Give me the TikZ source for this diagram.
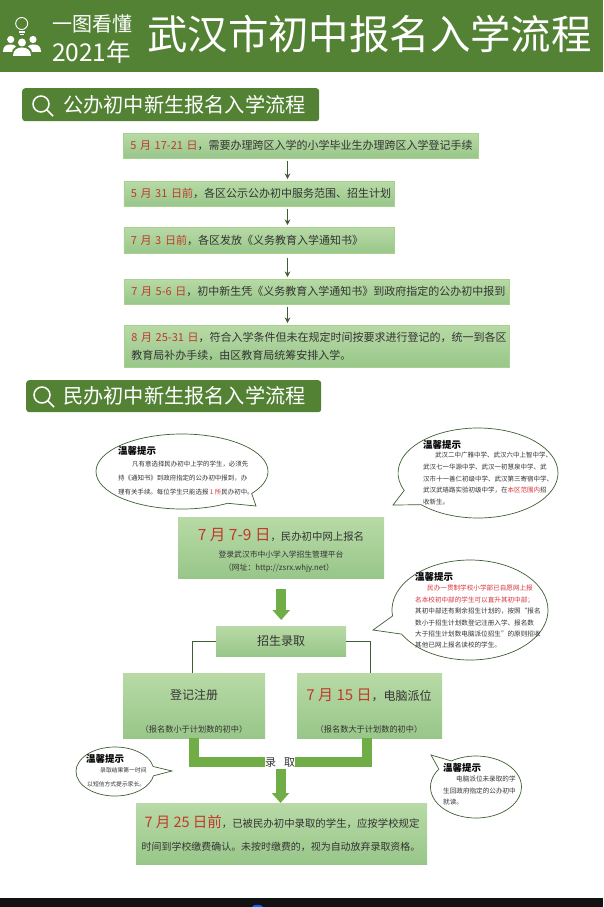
\documentclass[tikz,border=0pt]{standalone}
\usepackage{fontspec}
\setmainfont{Noto Sans CJK SC}
\usepackage{tikz}
\usetikzlibrary{shapes.callouts,arrows.meta,positioning,calc}
\definecolor{bandgreen}{HTML}{548235}
\definecolor{flowgreen}{HTML}{70AD47}
\definecolor{boxtop}{HTML}{B8DAA6}
\definecolor{boxbot}{HTML}{98C689}
\definecolor{boxedge}{HTML}{A9D18E}
\definecolor{datered}{HTML}{C0392B}
\definecolor{tipred}{HTML}{D9363E}
\definecolor{inkgray}{HTML}{333333}
\definecolor{linegreen}{HTML}{3F5F32}
\newcommand{\dated}[1]{\textcolor{datered}{#1}}
\newcommand{\tipred}[1]{\textcolor{tipred}{#1}}
\newcommand{\fsz}[1]{\fontsize{#1}{#1}\selectfont}

\begin{document}
\begin{tikzpicture}[
    x=1pt, y=-1pt,
    >=Stealth,
    band/.style={rectangle, fill=bandgreen, text=white, inner sep=0pt},
    secbox/.style={rectangle, fill=bandgreen, rounded corners=3pt, anchor=north west, inner sep=0pt, text=white},
    stepbox/.style={rectangle, draw=boxedge, top color=boxtop, bottom color=boxbot, anchor=north west, line width=0.6pt, inner xsep=7pt, inner ysep=0pt, align=left, text=inkgray, font=\fontsize{11}{17.5}\selectfont},
    flowbox/.style={rectangle, top color=boxtop, bottom color=boxbot, anchor=north west, inner sep=0pt, text=inkgray},
    steparrow/.style={-{Stealth[length=5.5pt,width=5.5pt]}, draw=linegreen, line width=0.7pt, shorten <=2pt, shorten >=2pt},
    branch/.style={draw=linegreen, line width=0.7pt},
    flowline/.style={draw=flowgreen, line width=10pt, line join=miter},
    flowarrow/.style={-{Triangle[width=17pt,length=10pt]}, draw=flowgreen, fill=flowgreen, line width=10pt},
    tipshape/.style={ellipse callout, draw=linegreen, fill=white, line width=0.7pt, callout pointer arc=22, inner sep=0pt},
    tiptitle/.style={anchor=west, inner sep=0pt, font=\fontsize{9.5}{10}\selectfont\bfseries, text=black},
    tipbody/.style={anchor=north west, inner sep=0pt, align=left, text=inkgray}
]
\useasboundingbox (0,0) rectangle (603,907);
\fill[white] (0,0) rectangle (603,907);

% Header
\node[band, anchor=north west, minimum width=603pt, minimum height=72pt] (header) at (0,0) {};
\node[anchor=west, inner sep=0pt, text=white, font=\fsz{20}] (sub1) at (52,24) {一图看懂};
\node[anchor=west, inner sep=0pt, text=white, font=\fsz{24.5}] (sub2) at (52,52) {2021年};
\node[anchor=west, inner sep=0pt, text=white, font=\fsz{40.4}] (title) at (147,34) {武汉市初中报名入学流程};

% Header icon
\draw[white, line width=0.9pt] (21.7,23.5) circle (6);
\draw[white, line width=1.2pt] (19,32) -- (24.5,32) (20,34.5) -- (23.5,34.5);
\fill[white] (10.7,39.5) circle (3.6) (33,39.5) circle (3.6) (22,42.5) circle (4);
\fill[white] (3,52) .. controls (3,46) and (6,44.5) .. (10.7,44.5) .. controls (13,44.5) and (15,45) .. (16,46.5) .. controls (13,48) and (12,50) .. (12,52) -- cycle;
\fill[white] (41,52) .. controls (41,46) and (38,44.5) .. (33,44.5) .. controls (31,44.5) and (29,45) .. (28,46.5) .. controls (31,48) and (32,50) .. (32,52) -- cycle;
\fill[white] (13,56) .. controls (13,50) and (17,47.5) .. (22,47.5) .. controls (27,47.5) and (31,50) .. (31,56) -- cycle;

% Public school section
\node[secbox, minimum width=297pt, minimum height=33pt] (sec1) at (22,88) {};
\node[anchor=west, inner sep=0pt, text=white, font=\fsz{20.2}] (sec1txt) at (63,105) {公办初中新生报名入学流程};
\draw[white, line width=1.5pt] (41,104) circle (8) (47,110) -- (53,116);

\node[stepbox, text width=341pt, minimum height=25pt] (step1) at (123,133) {\mbox{\dated{5 月 17-21 日}，需要办理跨区入学的小学毕业生办理跨区入学登记手续}};
\node[stepbox, text width=256pt, minimum height=25pt] (step2) at (123.5,181) {\mbox{\dated{5 月 31 日前}，各区公示公办初中服务范围、招生计划}};
\node[stepbox, text width=256pt, minimum height=26pt] (step3) at (123.5,227) {\mbox{\dated{7 月 3 日前}，各区发放《义务教育入学通知书》}};
\node[stepbox, text width=371pt, minimum height=25pt] (step4) at (124,279) {\mbox{\dated{7 月 5-6 日}，初中新生凭《义务教育入学通知书》到政府指定的公办初中报到}};
\node[stepbox, text width=371pt, minimum height=42pt] (step5) at (124,325) {\mbox{\dated{8 月 25-31 日}，符合入学条件但未在规定时间按要求进行登记的，统一到各区}\\教育局补办手续，由区教育局统筹安排入学。};

\coordinate (spine) at (287.5,0);
\draw[steparrow] (step1.south -| spine) -- (step2.north -| spine);
\draw[steparrow] (step2.south -| spine) -- (step3.north -| spine);
\draw[steparrow] ([yshift=-2pt]step3.south -| spine) -- (step4.north -| spine);
\draw[steparrow] (step4.south -| spine) -- (step5.north -| spine);

% Private school section
\node[secbox, minimum width=295pt, minimum height=32pt] (sec2) at (26,380) {};
\node[anchor=west, inner sep=0pt, text=white, font=\fsz{20.2}] (sec2txt) at (63,396) {民办初中新生报名入学流程};
\draw[white, line width=1.5pt] (42,395) circle (8) (48,401) -- (54,407);

\node[flowbox, minimum width=206pt, minimum height=61pt] (online) at (178,517) {};
\node[inner sep=0pt, text=inkgray] (onlinetxt) at (281,535) {\textcolor{datered}{\fsz{15.5}7 月 7-9 日}{\fsz{10.4}，民办初中网上报名}};
\node[inner sep=0pt, text=inkgray, font=\fsz{7.8}] (onlinesub) at (281,555) {登录武汉市中小学入学招生管理平台};
\node[inner sep=0pt, text=inkgray, font=\fsz{7.8}] (onlineurl) at (279,568) {（网址：http://zsrx.whjy.net）};

\node[flowbox, minimum width=130pt, minimum height=30pt, font=\fsz{12}] (enroll) at (216,626) {招生录取};

\node[flowbox, minimum width=142pt, minimum height=65pt] (reg) at (123,673) {};
\node[inner sep=0pt, text=inkgray, font=\fsz{12}] (regtxt) at (194,695) {登记注册};
\node[inner sep=0pt, text=inkgray, font=\fsz{8.2}] (regsub) at (194,729) {（报名数小于计划数的初中）};

\node[flowbox, minimum width=145pt, minimum height=65pt] (dist) at (297,673) {};
\node[inner sep=0pt, text=inkgray] (disttxt) at (369,695) {\textcolor{datered}{\fsz{15}7 月 15 日}{\fsz{12}，电脑派位}};
\node[inner sep=0pt, text=inkgray, font=\fsz{8.2}] (distsub) at (369,729) {（报名数大于计划数的初中）};

\node[flowbox, minimum width=291pt, minimum height=61pt] (final) at (136,803) {};
\node[inner sep=0pt, text=inkgray] (finaltxt) at (282,822) {\textcolor{datered}{\fsz{14.5}7 月 25 日前}{\fsz{10.4}，已被民办初中录取的学生，应按学校规定}};
\node[inner sep=0pt, text=inkgray, font=\fsz{9.95}] (finalsub) at (281,847) {时间到学校缴费确认。未按时缴费的，视为自动放弃录取资格。};

% Connectors
\draw[flowarrow, shorten <=11pt, shorten >=6pt] (online.south) -- (online.south |- enroll.north);
\draw[branch] (enroll.west) -| ([xshift=-2pt]reg.north);
\draw[branch] (enroll.east) -| ([xshift=1pt]dist.north);

\coordinate (admit) at (280.5,762);
\draw[flowline] ([xshift=-0.5pt]reg.south) -- ([xshift=-0.5pt]reg.south |- admit) -- ([xshift=-3pt]dist.south |- admit) -- ([xshift=-3pt]dist.south);
\draw[flowarrow] (admit) -- (admit |- final.north);
\node[fill=white, inner sep=0pt, minimum width=30pt, minimum height=12pt, text=inkgray, font=\fsz{11}] (admitlbl) at (280,763) {录\hspace{8pt}取};

% Callouts
\node[tipshape, minimum width=172pt, minimum height=75pt, callout absolute pointer={(256,506)}] (tip1) at (182,471.5) {};
\node[tiptitle] (tip1head) at (118,451) {温馨提示};
\node[tipbody, font=\fontsize{6.45}{13.7}\selectfont] (tip1body) at (118,461) {\hspace*{14pt}凡有意选择民办初中上学的学生，必须先\\持《通知书》到政府指定的公办初中报到，办\\理有关手续。每位学生只能选报 \tipred{1 所}民办初中。};

\node[tipshape, minimum width=160pt, minimum height=90pt, callout absolute pointer={(393,505)}] (tip2) at (478,473) {};
\node[tiptitle] (tip2head) at (423,445) {温馨提示};
\node[tipbody, font=\fontsize{6.5}{11.7}\selectfont] (tip2body) at (423,452) {\hspace*{12pt}武汉二中广雅中学、武汉六中上智中学、\\武汉七一华源中学、武汉一初慧泉中学、武\\汉市十一善仁初级中学、武汉第三寄宿中学、\\武汉武珞路实验初级中学，在\tipred{本区范围内}招\\收新生。};

\node[tipshape, minimum width=156pt, minimum height=100pt, callout absolute pointer={(373,630)}] (tip3) at (470,610) {};
\node[tiptitle] (tip3head) at (415,577) {温馨提示};
\node[tipbody, font=\fontsize{6.6}{11.4}\selectfont] (tip3body) at (415,585) {\hspace*{12pt}\tipred{民办一贯制学校小学部已自愿网上报}\\\tipred{名本校初中部的学生可以直升其初中部；}\\其初中部还有剩余招生计划的，按照“报名\\数小于招生计划数登记注册入学、报名数\\大于招生计划数电脑派位招生”的原则招收\\其他已网上报名读校的学生。};

\node[tipshape, minimum width=78pt, minimum height=49pt, callout absolute pointer={(172,771)}] (tip4) at (115,771.5) {};
\node[tiptitle] (tip4head) at (86,759) {温馨提示};
\node[tipbody, font=\fontsize{5.8}{14}\selectfont] (tip4body) at (87,767) {\hspace*{13pt}录取结果第一时间\\以短信方式提示家长。};

\node[tipshape, minimum width=91pt, minimum height=62pt, callout absolute pointer={(431,755)}] (tip5) at (476,787) {};
\node[tiptitle] (tip5head) at (443,768) {温馨提示};
\node[tipbody, font=\fontsize{6.6}{11.5}\selectfont] (tip5body) at (443,776) {\hspace*{13pt}电脑派位未录取的学\\生回政府指定的公办初中\\就读。};

% Bottom strip
\node[rectangle, fill=black!93, anchor=north west, inner sep=0pt, minimum width=603pt, minimum height=9pt] (strip) at (0,898) {};
\fill[blue!60!cyan] (252,907) .. controls (253,904) and (262,904) .. (263,907) -- cycle;
\end{tikzpicture}
\end{document}
